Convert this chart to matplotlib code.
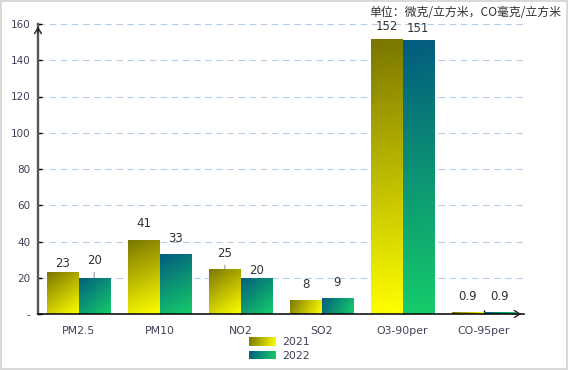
import numpy as np
import matplotlib
matplotlib.use('Agg')
from matplotlib import pyplot as plt
from matplotlib.colors import to_rgb

# data
categories = ['PM2.5', 'PM10', 'NO2', 'SO2', 'O3-90per', 'CO-95per']
vals_2021 = [23, 41, 25, 8, 152, 0.9]
vals_2022 = [20, 33, 20, 9, 151, 0.9]
series_names = ['2021', '2022']
y_ticks = [0, 20, 40, 60, 80, 100, 120, 140, 160]
y_tick_labels = ['-', '20', '40', '60', '80', '100', '120', '140', '160']
unit_text = '单位：微克/立方米，CO毫克/立方米'

# layout / style
lbl_off_2021 = [9, 16, 15, 15, 12, 16]     # px above bar top
lbl_off_2022 = [17, 16, 7, 15, 12, 16]
leader_2021 = [False, False, True, False, False, False]
leader_2022 = [True, False, False, False, False, False]
grad_2021 = ('#7a7600', '#ffff00')
grad_2022 = ('#035c7e', '#16cc6a')
barW = 0.387
tickColor = '#404058'
txtColor = '#333333'

plt.rcParams['font.family'] = ['DejaVu Sans']


def gradImage(w_px, h_px, c0, c1, n=80):
    # linear gradient along the diagonal, dark top-left -> bright bottom-right
    u = np.linspace(0, 1, n)[None, :]
    v = np.linspace(0, 1, n)[:, None]
    t = (u * w_px ** 2 + v * h_px ** 2) / (w_px ** 2 + h_px ** 2)
    c0 = np.array(to_rgb(c0))
    c1 = np.array(to_rgb(c1))
    return c0[None, None, :] * (1 - t[..., None]) + c1[None, None, :] * t[..., None]


fig = plt.figure(figsize=(5.68, 3.70), dpi=100)
fig.patch.set_edgecolor('#d9d9d9')
fig.patch.set_linewidth(1.6)

ax = fig.add_axes([38 / 568, 56 / 370, 486 / 568, 290 / 370])
ax.set_xlim(-0.5, len(categories) - 0.5)
ax.set_ylim(0, 160)

sx = 486 / len(categories)
sy = 290 / 160.0

x = np.arange(len(categories))

for vals, grad, offs, leads, shift in [
        (vals_2021, grad_2021, lbl_off_2021, leader_2021, -barW / 2),
        (vals_2022, grad_2022, lbl_off_2022, leader_2022, barW / 2)]:
    bars = ax.bar(x + shift, vals, barW, color='none', edgecolor='none', zorder=2)
    for i, rect in enumerate(bars):
        x0 = rect.get_x()
        h = rect.get_height()
        img = gradImage(barW * sx, max(h * sy, 1), grad[0], grad[1])
        im = ax.imshow(img, extent=[x0, x0 + barW, 0, h], aspect='auto',
                       origin='upper', zorder=2, interpolation='bilinear')
        im.set_clip_path(rect)
        arrow = None
        if leads[i]:
            arrow = dict(arrowstyle='-', color='#999999', lw=0.8, shrinkA=1.5, shrinkB=0)
        ax.annotate('{:g}'.format(vals[i]), xy=(x0 + barW / 2, h),
                    xytext=(0, offs[i] * 0.72), textcoords='offset points',
                    ha='center', va='center', fontsize=8.5, color=txtColor,
                    arrowprops=arrow, zorder=4)

ax.set_xlim(-0.5, len(categories) - 0.5)
ax.set_ylim(0, 160)

# grid
ax.set_yticks(y_ticks)
ax.set_yticklabels(y_tick_labels)
ax.yaxis.grid(True, linestyle=(0, (6, 4)), color='#b4cce4', linewidth=0.8, zorder=0)
ax.set_axisbelow(True)

ax.set_xticks(x)
ax.set_xticklabels(categories)
ax.tick_params(axis='y', direction='in', length=3, width=1, color='black',
               labelsize=7.5, labelcolor=tickColor, pad=5.5)
ax.tick_params(axis='x', direction='in', length=3, width=1, color='black',
               labelsize=7.8, labelcolor=tickColor, pad=9)

for s in ['top', 'right']:
    ax.spines[s].set_visible(False)
ax.spines['left'].set_color('#555555')
ax.spines['left'].set_linewidth(1.7)
ax.spines['bottom'].set_color('black')
ax.spines['bottom'].set_linewidth(1.1)
ax.spines['left'].set_zorder(5)
ax.spines['bottom'].set_zorder(5)

# arrow heads
ax.annotate('', xy=(0, 1.0), xytext=(0, 0.96), xycoords='axes fraction',
            arrowprops=dict(arrowstyle='->,head_length=0.4,head_width=0.25',
                            color='#222222', lw=1), zorder=6)
ax.annotate('', xy=(1.0, 0), xytext=(0.97, 0), xycoords='axes fraction',
            arrowprops=dict(arrowstyle='->,head_length=0.4,head_width=0.25',
                            color='#222222', lw=1), zorder=6)

# unit text
fig.text(561 / 568, 1 - 12.7 / 370, unit_text, ha='right', va='center',
         fontsize=8.6, color=txtColor,
         family=['Noto Sans CJK SC', 'DejaVu Sans'])

# legend, drawn by hand so the swatches keep their gradient
legRows = [(337.3, 345.7, 341.7), (350.7, 359.3, 355.7)]
for name, grad, (yt, yb, yc) in zip(series_names, [grad_2021, grad_2022], legRows):
    sw = fig.add_axes([249.3 / 568, 1 - yb / 370, 26.7 / 568, (yb - yt) / 370])
    sw.imshow(gradImage(27, 8, grad[0], grad[1]), aspect='auto',
              interpolation='bilinear')
    sw.set_axis_off()
    fig.text(281.7 / 568, 1 - yc / 370, name, ha='left', va='center',
             fontsize=7.8, color=tickColor)

fig.savefig('out.png', dpi=100)
